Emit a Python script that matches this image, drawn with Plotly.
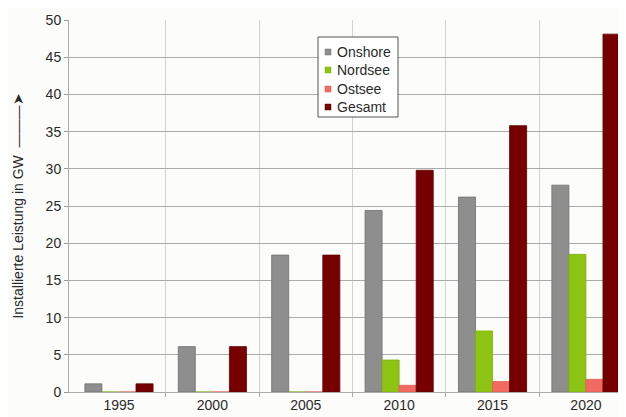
import plotly.graph_objects as go

years = ["1995", "2000", "2005", "2010", "2015", "2020"]
onshore = [1.1, 6.1, 18.4, 24.4, 26.2, 27.8]
nordsee = [0, 0, 0, 4.3, 8.2, 18.5]
ostsee = [0, 0, 0, 0.9, 1.4, 1.7]
gesamt = [1.1, 6.1, 18.4, 29.8, 35.8, 48.1]

series_names = ["Onshore", "Nordsee", "Ostsee", "Gesamt"]
series_values = [onshore, nordsee, ostsee, gesamt]
colors = ["#8e8e8e", "#8dc413", "#f26b62", "#760000"]
edges = ["#6e6e6e", "#7fb010", "#e05a52", "#5e0000"]

xpos = list(range(len(years)))
font = "Liberation Sans, Arial, sans-serif"

W, H = 618, 409
ML, MR, MT, MB = 61, 0, 12, 25
PW, PH = W - ML - MR, H - MT - MB


def px(fx):
    return (fx - ML) / PW


def py(fy):
    return (H - MB - fy) / PH


fig = go.Figure()
for name, vals, c, e in zip(series_names, series_values, colors, edges):
    fig.add_trace(go.Bar(
        x=xpos, y=vals, name=name, showlegend=False,
        marker=dict(color=c, line=dict(color=e, width=0.8)),
    ))

# compact legend box (drawn like the original's small framed legend)
shapes = [dict(type="rect", xref="paper", yref="paper",
               x0=px(310), x1=px(390), y0=py(109), y1=py(29),
               fillcolor="#ffffff", line=dict(color="#555555", width=1), layer="above")]
annotations = []
row_y = [44, 62, 81, 99]
for name, c, e, ry in zip(series_names, colors, edges, row_y):
    shapes.append(dict(type="rect", xref="paper", yref="paper",
                       x0=px(317), x1=px(323), y0=py(ry + 3), y1=py(ry - 3),
                       fillcolor=c, line=dict(color=e, width=0.5), layer="above"))
    annotations.append(dict(xref="paper", yref="paper", x=px(327), y=py(ry),
                            xanchor="left", yanchor="middle", text=name, showarrow=False,
                            font=dict(size=14, color="#2a2a2a")))

fig.update_layout(
    width=W, height=H,
    margin=dict(l=ML, r=MR, t=MT, b=MB),
    paper_bgcolor="#fcfcfa",
    plot_bgcolor="#fcfcfa",
    barmode="group",
    bargap=0.27,
    bargroupgap=0.0,
    font=dict(family=font, size=14, color="#2a2a2a"),
    showlegend=False,
    shapes=shapes,
    annotations=annotations,
    xaxis=dict(
        range=[-0.535, 5.429],
        tickmode="array", tickvals=xpos, ticktext=years,
        showgrid=False, zeroline=False,
        showline=True, linecolor="#aaaaaa", linewidth=1,
        ticks="", tickfont=dict(size=14),
        minor=dict(tickvals=[0.5, 1.5, 2.5, 3.5, 4.5], showgrid=True,
                   gridcolor="#d2d2d2", gridwidth=1, ticks="outside",
                   ticklen=4, tickcolor="#aaaaaa"),
    ),
    yaxis=dict(
        range=[0, 50], dtick=5,
        showgrid=True, gridcolor="#ababab", gridwidth=1,
        zeroline=False,
        showline=True, linecolor="#aaaaaa", linewidth=1,
        ticks="outside", ticklen=4, tickcolor="#999999",
        tickfont=dict(size=14),
        title=dict(text="Installierte Leistung in GW  ———➤", font=dict(size=14), standoff=18),
    ),
)

fig.write_html("out.html")
